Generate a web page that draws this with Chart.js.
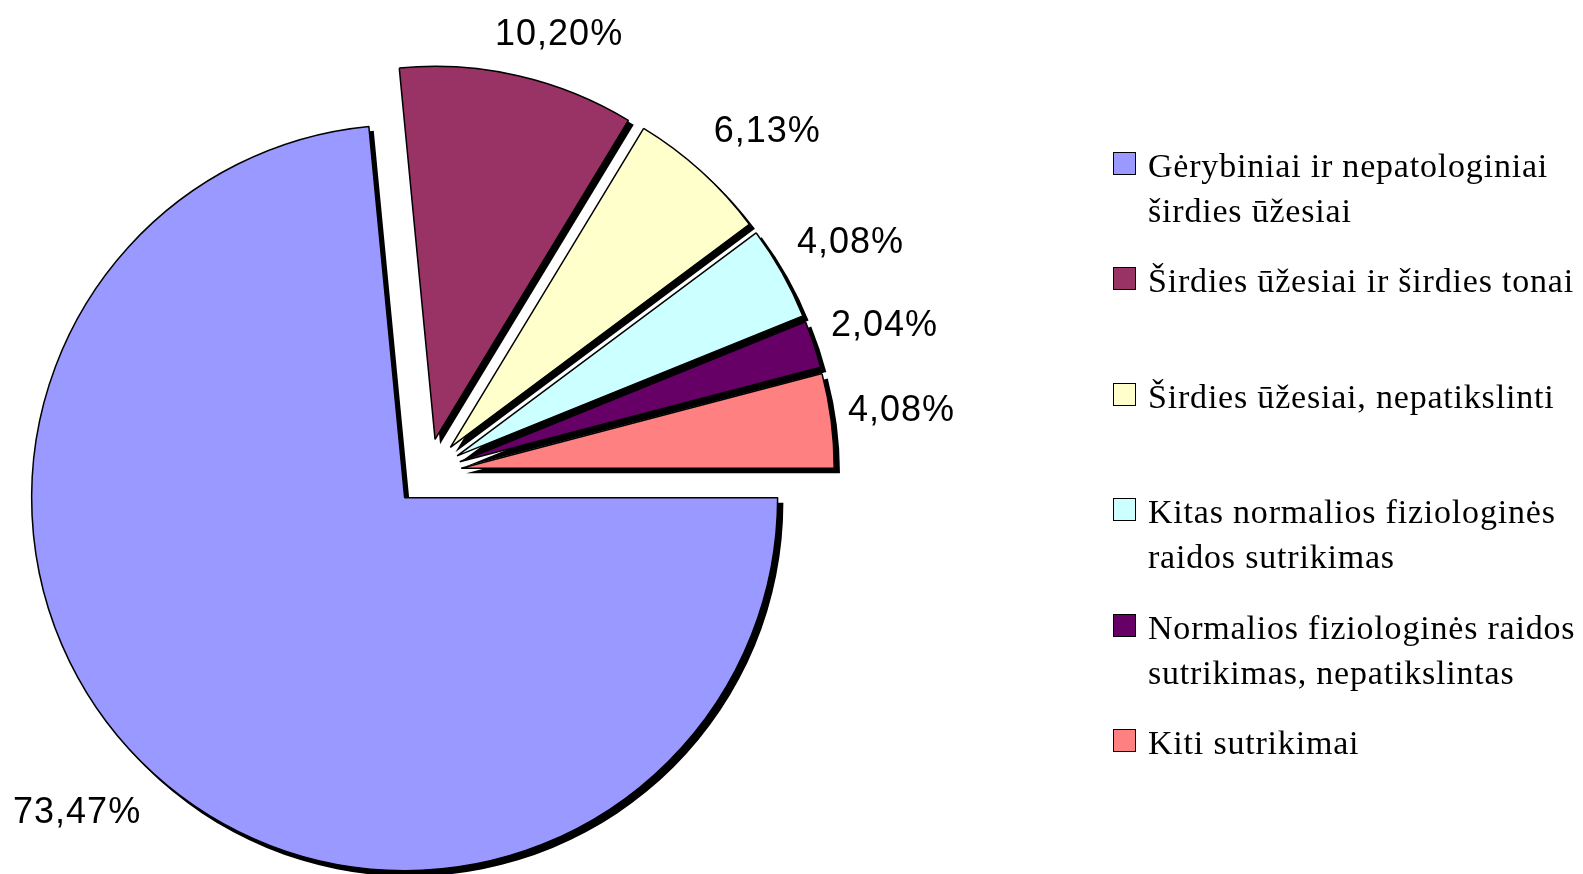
<!DOCTYPE html>
<html>
<head>
<meta charset="utf-8">
<script src="https://cdn.jsdelivr.net/npm/chart.js@4.4.1/dist/chart.umd.min.js"></script>
<style>
  body { margin: 0; background: #fff; }
  #wrap { position: relative; width: 1583px; height: 874px; }
  #pieChart { position: absolute; left: 0; top: 0; display: block; }
  #legend { font-family: "Liberation Serif", "Times New Roman", serif; font-size: 34px; letter-spacing: 0.8px; color: #000; }
  .item { position: absolute; left: 1148px; line-height: 45px; white-space: pre; }
  .box { position: absolute; left: 1113px; width: 23px; height: 23px; box-sizing: border-box; border: 1.5px solid #000; }
</style>
</head>
<body>
<div id="wrap">
  <canvas id="pieChart" width="1583" height="874"></canvas>
  <div id="legend"></div>
</div>
<script>
// data
const categories = [
  'Gėrybiniai ir nepatologiniai\nširdies ūžesiai',
  'Širdies ūžesiai ir širdies tonai',
  'Širdies ūžesiai, nepatikslinti',
  'Kitas normalios fiziologinės\nraidos sutrikimas',
  'Normalios fiziologinės raidos\nsutrikimas, nepatikslintas',
  'Kiti sutrikimai'
];
const values = [73.47, 10.20, 6.13, 4.08, 2.04, 4.08];
const colors = ['#9999FF', '#993366', '#FFFFCC', '#CCFFFF', '#660066', '#FF8080'];
const pctLabels = values.map(v => v.toFixed(2).replace('.', ',') + '%');

const EXPLODE = 34;     // distance each slice is pulled out
const SHADOW = 5;       // shadow offset
// label placement: gap beyond the rim (px) and small turn off the mid-angle (deg)
const labelGap = [82, 50, 74, 74, 73, 71];
const labelTurn = [3.8, 4.2, 2.9, 1, 0.6, 0];

// draw exploded slices with a black drop shadow
const explodePlugin = {
  id: 'explode',
  beforeDatasetDraw(chart, args) {
    const ctx = chart.ctx;
    const arcs = args.meta.data;
    ctx.save();
    ctx.fillStyle = '#000';
    arcs.forEach(arc => {
      const mid = (arc.startAngle + arc.endAngle) / 2;
      const cx = arc.x + Math.cos(mid) * EXPLODE + SHADOW;
      const cy = arc.y + Math.sin(mid) * EXPLODE + SHADOW;
      ctx.beginPath();
      ctx.moveTo(cx, cy);
      ctx.arc(cx, cy, arc.outerRadius + 0.75, arc.startAngle, arc.endAngle);
      ctx.closePath();
      ctx.fill();
    });
    ctx.restore();
    arcs.forEach(arc => {
      const mid = (arc.startAngle + arc.endAngle) / 2;
      ctx.save();
      ctx.translate(Math.cos(mid) * EXPLODE, Math.sin(mid) * EXPLODE);
      arc.draw(ctx);
      ctx.restore();
    });
    return false;
  }
};

const labelsPlugin = {
  id: 'pctLabels',
  afterDatasetsDraw(chart) {
    const ctx = chart.ctx;
    const meta = chart.getDatasetMeta(0);
    ctx.save();
    ctx.font = '36px "Liberation Sans", Arial, sans-serif';
    ctx.letterSpacing = '1px';
    ctx.fillStyle = '#000';
    ctx.textAlign = 'center';
    ctx.textBaseline = 'middle';
    meta.data.forEach((arc, i) => {
      const mid = (arc.startAngle + arc.endAngle) / 2;
      const ex = arc.x + Math.cos(mid) * EXPLODE;
      const ey = arc.y + Math.sin(mid) * EXPLODE;
      const a = mid + labelTurn[i] * Math.PI / 180;
      const d = arc.outerRadius + labelGap[i];
      ctx.fillText(pctLabels[i], ex + Math.cos(a) * d, ey + Math.sin(a) * d);
    });
    ctx.restore();
  }
};

const pc = document.getElementById('pieChart').getContext('2d');
new Chart(pc, {
  type: 'pie',
  data: {
    labels: categories,
    datasets: [{
      data: values,
      backgroundColor: colors,
      borderColor: '#000',
      borderWidth: 1.5
    }]
  },
  options: {
    responsive: false,
    animation: false,
    rotation: 90,
    radius: 373,
    layout: { padding: { left: 0, right: 728, top: 71, bottom: 0 } },
    plugins: {
      legend: { display: false },
      tooltip: { enabled: false }
    },
    events: []
  },
  plugins: [explodePlugin, labelsPlugin]
});

// legend on the right
const legend = document.getElementById('legend');
categories.forEach((c, i) => {
  const box = document.createElement('div');
  box.className = 'box';
  box.style.top = (151.6 + i * 115.5) + 'px';
  box.style.background = colors[i];
  legend.appendChild(box);
  const item = document.createElement('div');
  item.className = 'item';
  item.style.top = (142.7 + i * 115.5) + 'px';
  item.textContent = c;
  legend.appendChild(item);
});
</script>
</body>
</html>
